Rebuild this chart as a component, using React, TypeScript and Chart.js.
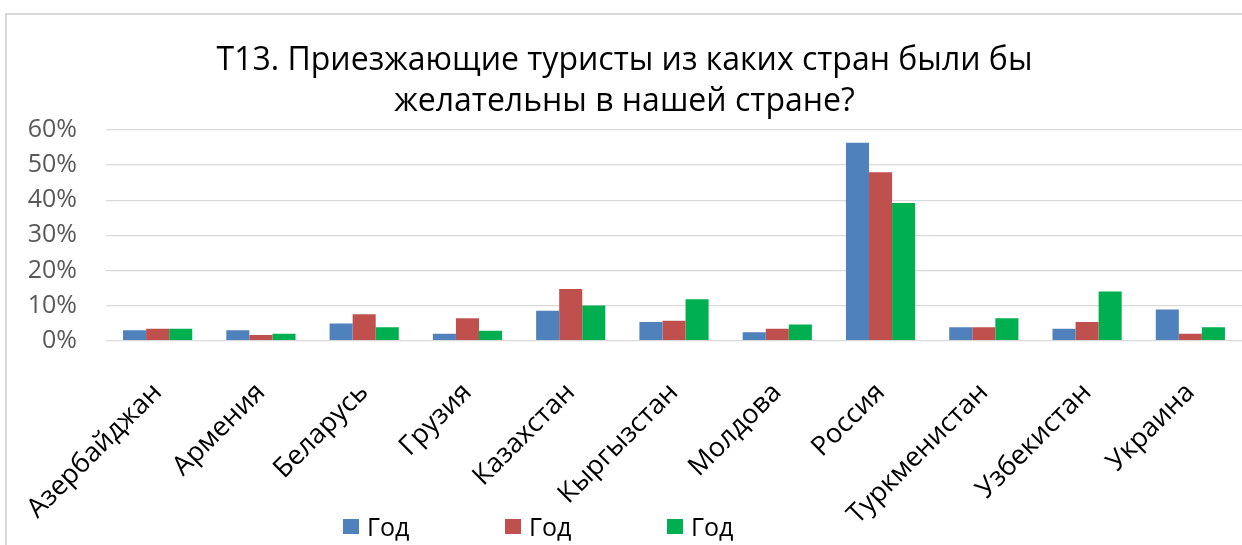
import React, { useEffect, useRef } from "react";
import { Chart, registerables } from "chart.js";

Chart.register(...registerables);

const categories = [
  "Азербайджан",
  "Армения",
  "Беларусь",
  "Грузия",
  "Казахстан",
  "Кыргызстан",
  "Молдова",
  "Россия",
  "Туркменистан",
  "Узбекистан",
  "Украина",
];
const series1 = [3.0, 3.0, 4.9, 2.0, 8.5, 5.3, 2.4, 56.4, 3.8, 3.4, 8.9];
const series2 = [3.4, 1.6, 7.5, 6.4, 14.7, 5.7, 3.4, 48.0, 3.8, 5.3, 2.0];
const series3 = [3.4, 2.0, 3.8, 2.8, 10.0, 11.8, 4.6, 39.2, 6.4, 14.0, 3.8];
const seriesNames = ["Год", "Год", "Год"];
const seriesColors = ["#4f81bd", "#c0504d", "#00b050"];
const yMin = 0;
const yMax = 60;
const yStep = 10;
const titleLines = [
  "Т13. Приезжающие туристы из каких стран были бы",
  "желательны в нашей стране?",
];

const FONT = "'Open Sans', 'Noto Sans', sans-serif";

export default function App() {
  const canvasRef = useRef<HTMLCanvasElement | null>(null);

  useEffect(() => {
    const canvas = canvasRef.current;
    if (!canvas) return;
    const seriesData = [series1, series2, series3];
    const chart = new Chart(canvas, {
      type: "bar",
      data: {
        labels: categories,
        datasets: seriesData.map((d, i) => ({
          label: seriesNames[i],
          data: d,
          backgroundColor: seriesColors[i],
          borderWidth: 0,
          categoryPercentage: 0.67,
          barPercentage: 1,
        })),
      },
      options: {
        animation: false,
        responsive: false,
        maintainAspectRatio: false,
        layout: { padding: 0 },
        plugins: {
          legend: { display: false },
          tooltip: { enabled: false },
          title: {
            display: true,
            text: titleLines,
            color: "#000000",
            font: { family: FONT, size: 32, weight: "normal", lineHeight: 1.281 },
            padding: { top: 25.5, bottom: 7.5 },
          },
        },
        scales: {
          x: {
            grid: { display: false, drawTicks: false },
            border: { display: false },
            ticks: {
              color: "#000000",
              font: { family: FONT, size: 27 },
              minRotation: 45,
              maxRotation: 45,
              autoSkip: false,
              padding: 36,
            },
            afterFit: (scale: any) => {
              scale.height = 204.3;
              scale.paddingLeft = 0;
              scale.paddingRight = 0;
            },
          },
          y: {
            min: yMin,
            max: yMax,
            grid: { color: "#d9d9d9", lineWidth: 1.3, drawTicks: false },
            border: { display: false },
            ticks: {
              stepSize: yStep,
              color: "#595959",
              font: { family: FONT, size: 25 },
              padding: 29,
              callback: (v: any) => `${v}%`,
            },
            afterFit: (scale: any) => {
              scale.width = 99;
              scale.paddingTop = 0;
              scale.paddingBottom = 0;
            },
          },
        },
      },
    });
    return () => chart.destroy();
  }, []);

  return (
    <div
      style={{
        position: "fixed",
        left: 0,
        top: 0,
        width: 1242,
        height: 545,
        overflow: "hidden",
        background: "#ffffff",
      }}
    >
      <div
        style={{
          position: "absolute",
          left: 5,
          top: 13,
          width: 1400,
          height: 700,
          border: "2px solid #d9d9d9",
          boxSizing: "border-box",
        }}
      />
      <canvas
        ref={canvasRef}
        width={1235}
        height={530}
        style={{ position: "absolute", left: 7, top: 15, width: 1235, height: 530 }}
      />
      <div
        style={{
          position: "absolute",
          left: 343,
          top: 511,
          display: "flex",
          fontFamily: FONT,
          fontSize: 25,
          color: "#000000",
          lineHeight: "30px",
        }}
      >
        {seriesNames.map((name, i) => (
          <div key={i} style={{ width: 162, display: "flex", alignItems: "center" }}>
            <span
              style={{
                display: "inline-block",
                width: 16,
                height: 15,
                background: seriesColors[i],
                marginRight: 8,
              }}
            />
            <span>{name}</span>
          </div>
        ))}
      </div>
    </div>
  );
}
